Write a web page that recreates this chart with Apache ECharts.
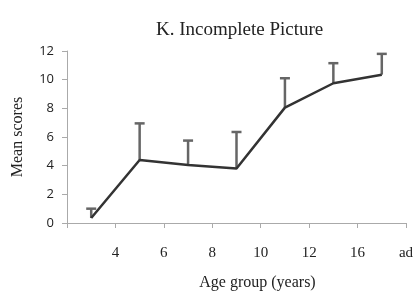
<!DOCTYPE html>
<html>
<head>
<meta charset="utf-8">
<script src="https://cdn.jsdelivr.net/npm/echarts@6/dist/echarts.min.js"></script>
<style>
  html, body { margin: 0; padding: 0; background: #fff; }
  #chart { width: 416px; height: 292px; }
</style>
</head>
<body>
<div id="chart"></div>
<script>
// age groups (7 groups), labels sit on the boundary ticks
var xLabels = ['4', '6', '8', '10', '12', '16', 'ad'];
var means = [0.35, 4.4, 4.05, 3.8, 8.05, 9.75, 10.35];
var upper = [1.0, 6.95, 5.75, 6.35, 10.1, 11.15, 11.8];
var yTicks = [0, 2, 4, 6, 8, 10, 12];

var chart = echarts.init(document.getElementById('chart'));

// each group is centred in its slot
var lineData = means.map(function (m, i) { return [i + 0.5, m]; });
var errData = means.map(function (m, i) { return [i + 0.5, m, upper[i]]; });

var serif = '"Liberation Serif", "DejaVu Serif", serif';
var sans = '"Open Sans", "Liberation Sans", sans-serif';

var option = {
  animation: false,
  backgroundColor: '#fff',
  title: {
    text: 'K. Incomplete Picture',
    left: 151,
    top: 16,
    textStyle: { fontFamily: serif, fontWeight: 'normal', fontSize: 19, color: '#222' }
  },
  grid: { left: 67, right: 10, top: 51, bottom: 69, outerBoundsMode: 'none' },
  xAxis: {
    type: 'value',
    min: 0,
    max: xLabels.length,
    interval: 1,
    splitLine: { show: false },
    axisLine: { lineStyle: { color: '#aaa', width: 1 } },
    axisTick: { show: true, length: 5, lineStyle: { color: '#aaa' } },
    axisLabel: {
      margin: 23,
      fontFamily: serif,
      fontSize: 15,
      color: '#222',
      formatter: function (v) { return v >= 1 ? xLabels[v - 1] : ''; }
    },
    name: 'Age group (years)',
    nameLocation: 'middle',
    nameGap: 52,
    nameTextStyle: { fontFamily: serif, fontSize: 16, color: '#222', padding: [0, 0, 0, 42] }
  },
  yAxis: {
    type: 'value',
    min: yTicks[0],
    max: yTicks[yTicks.length - 1],
    interval: 2,
    splitLine: { show: false },
    axisLine: { show: true, lineStyle: { color: '#aaa', width: 1 } },
    axisTick: { show: true, length: 5, lineStyle: { color: '#aaa' } },
    axisLabel: { margin: 13, fontFamily: sans, fontSize: 13, color: '#222' },
    name: 'Mean scores',
    nameLocation: 'middle',
    nameGap: 41,
    nameTextStyle: { fontFamily: serif, fontSize: 16, color: '#222' }
  },
  series: [
    {
      type: 'custom',
      data: errData,
      z: 1,
      renderItem: function (params, api) {
        var base = api.coord([api.value(0), api.value(1)]);
        var top = api.coord([api.value(0), api.value(2)]);
        var half = 5;
        var style = { stroke: '#666', lineWidth: 2.5 };
        return {
          type: 'group',
          children: [
            { type: 'line', shape: { x1: base[0], y1: base[1], x2: top[0], y2: top[1] }, style: style },
            { type: 'line', shape: { x1: top[0] - half, y1: top[1], x2: top[0] + half, y2: top[1] }, style: style }
          ]
        };
      }
    },
    {
      type: 'line',
      data: lineData,
      z: 2,
      symbol: 'none',
      lineStyle: { color: '#333', width: 2.5 }
    }
  ]
};

chart.setOption(option);
</script>
</body>
</html>
